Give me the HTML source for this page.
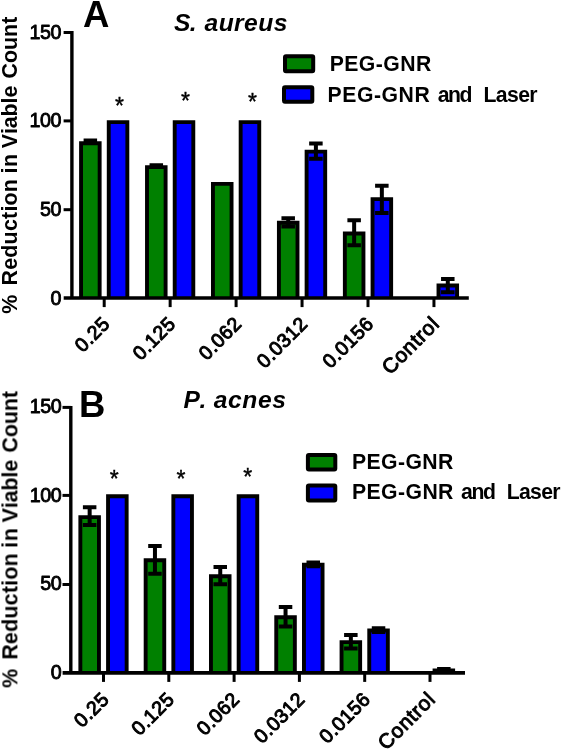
<!DOCTYPE html>
<html><head><meta charset="utf-8"><title>Reduction in Viable Count</title>
<style>
html,body{margin:0;padding:0;background:#fff;}
svg{display:block;}
#fig{filter:blur(0.45px);}
svg text{font-family:"Liberation Sans", sans-serif;fill:#000;}
svg text.tk{stroke:#000;stroke-width:0.85px;stroke-linejoin:round;letter-spacing:-0.5px;}
svg text.xk{stroke:#000;stroke-width:1px;stroke-linejoin:round;}
</style></head>
<body>
<svg width="566" height="750" viewBox="0 0 566 750">
<rect width="566" height="750" fill="#fff"/>
<g id="fig">
<g id="chartA">
<path d="M81.05 298.00V143.29H99.65V298.00" fill="#008000" stroke="#000" stroke-width="3.9"/>
<path d="M90.35 140.60V143.07M85.60 140.60H95.10M85.60 143.07H95.10" stroke="#000" stroke-width="4.0" fill="none" stroke-linecap="square" stroke-linejoin="round"/>
<path d="M108.75 298.00V122.10H127.35V298.00" fill="#0000ff" stroke="#000" stroke-width="3.9"/>
<path d="M147.00 298.00V167.13H165.60V298.00" fill="#008000" stroke="#000" stroke-width="3.9"/>
<path d="M156.30 165.14V166.91M151.55 165.14H161.05M151.55 166.91H161.05" stroke="#000" stroke-width="4.0" fill="none" stroke-linecap="square" stroke-linejoin="round"/>
<path d="M174.70 298.00V122.10H193.30V298.00" fill="#0000ff" stroke="#000" stroke-width="3.9"/>
<path d="M212.95 298.00V183.91H231.55V298.00" fill="#008000" stroke="#000" stroke-width="3.9"/>
<path d="M240.65 298.00V122.10H259.25V298.00" fill="#0000ff" stroke="#000" stroke-width="3.9"/>
<path d="M278.90 298.00V222.76H297.50V298.00" fill="#008000" stroke="#000" stroke-width="3.9"/>
<path d="M288.20 218.30V226.42M283.45 218.30H292.95M283.45 226.42H292.95" stroke="#000" stroke-width="4.0" fill="none" stroke-linecap="square" stroke-linejoin="round"/>
<path d="M306.60 298.00V151.59H325.20V298.00" fill="#0000ff" stroke="#000" stroke-width="3.9"/>
<path d="M315.90 143.60V158.79M311.15 143.60H320.65M311.15 158.79H320.65" stroke="#000" stroke-width="4.0" fill="none" stroke-linecap="square" stroke-linejoin="round"/>
<path d="M344.85 298.00V233.53H363.45V298.00" fill="#008000" stroke="#000" stroke-width="3.9"/>
<path d="M354.15 220.24V245.32M349.40 220.24H358.90M349.40 245.32H358.90" stroke="#000" stroke-width="4.0" fill="none" stroke-linecap="square" stroke-linejoin="round"/>
<path d="M372.55 298.00V199.10H391.15V298.00" fill="#0000ff" stroke="#000" stroke-width="3.9"/>
<path d="M381.85 185.63V213.00M377.10 185.63H386.60M377.10 213.00H386.60" stroke="#000" stroke-width="4.0" fill="none" stroke-linecap="square" stroke-linejoin="round"/>
<path d="M438.50 298.00V285.45H457.10V298.00" fill="#0000ff" stroke="#000" stroke-width="3.9"/>
<path d="M447.80 279.05V292.30M443.05 279.05H452.55M443.05 292.30H452.55" stroke="#000" stroke-width="4.0" fill="none" stroke-linecap="square" stroke-linejoin="round"/>
<path d="M71.90 31.00V298.00" stroke="#000" stroke-width="3.4" fill="none"/>
<path d="M63.70 298.00H468.80" stroke="#000" stroke-width="3.7" fill="none"/>
<path d="M63.60 209.70H71.90" stroke="#000" stroke-width="3" fill="none"/>
<path d="M63.60 120.90H71.90" stroke="#000" stroke-width="3" fill="none"/>
<path d="M63.60 32.50H71.90" stroke="#000" stroke-width="3" fill="none"/>
<text x="60.90" y="305.10" font-size="19.7" text-anchor="end" class="tk">0</text>
<text x="60.90" y="216.00" font-size="19.7" text-anchor="end" class="tk">50</text>
<text x="60.90" y="127.40" font-size="19.7" text-anchor="end" class="tk">100</text>
<text x="60.90" y="38.90" font-size="19.7" text-anchor="end" class="tk">150</text>
<path d="M104.20 298.00V307.10" stroke="#000" stroke-width="3" fill="none"/>
<text transform="translate(110.90 325.10) rotate(-45)" font-size="19.6" text-anchor="end" class="xk" style="letter-spacing:0.4px">0.25</text>
<path d="M170.15 298.00V307.10" stroke="#000" stroke-width="3" fill="none"/>
<text transform="translate(176.85 325.10) rotate(-45)" font-size="19.6" text-anchor="end" class="xk" style="letter-spacing:0.4px">0.125</text>
<path d="M236.10 298.00V307.10" stroke="#000" stroke-width="3" fill="none"/>
<text transform="translate(242.80 325.10) rotate(-45)" font-size="19.6" text-anchor="end" class="xk" style="letter-spacing:0.4px">0.062</text>
<path d="M302.05 298.00V307.10" stroke="#000" stroke-width="3" fill="none"/>
<text transform="translate(308.75 325.10) rotate(-45)" font-size="19.6" text-anchor="end" class="xk" style="letter-spacing:0.4px">0.0312</text>
<path d="M368.00 298.00V307.10" stroke="#000" stroke-width="3" fill="none"/>
<text transform="translate(374.70 325.10) rotate(-45)" font-size="19.6" text-anchor="end" class="xk" style="letter-spacing:0.4px">0.0156</text>
<path d="M433.95 298.00V307.10" stroke="#000" stroke-width="3" fill="none"/>
<text transform="translate(440.65 325.10) rotate(-45)" font-size="20.6" text-anchor="end" class="xk" style="letter-spacing:0.7px">Control</text>
<text x="119.50" y="113.50" font-size="23" text-anchor="middle" stroke="#000" stroke-width="0.4">*</text>
<text x="185.50" y="109.00" font-size="23" text-anchor="middle" stroke="#000" stroke-width="0.4">*</text>
<text x="252.40" y="109.50" font-size="23" text-anchor="middle" stroke="#000" stroke-width="0.4">*</text>
<text transform="translate(17.40 313.20) rotate(-90)" font-size="21.4" font-weight="bold" x="-0.53 19.98 27.67 43.35 55.48 68.79 82.09 94.22 101.58 107.75 121.06 133.98 139.61 146.26 158.58 164.95 179.13 184.99 196.80 209.78 215.63 228.23 234.72 250.16 263.22 276.28 289.33" y="0">% Reduction in Viable Count</text>
<text x="83" y="27" font-size="36.5" font-weight="bold">A</text>
<text x="174.10 189.87 196.23 204.58 218.68 234.12 244.12 258.21 273.66" y="30.9" font-size="24.6" font-weight="bold" font-style="italic">S. aureus</text>
<rect x="285" y="56.3" width="28.2" height="14.9" fill="#008000" stroke="#000" stroke-width="4" rx="1" stroke-linejoin="round"/>
<text x="329.68 344.26 358.83 375.76 383.25 400.18 415.92" y="71.2" font-size="21.2" font-weight="bold">PEG-GNR</text>
<rect x="284" y="87.2" width="28.3" height="14.5" fill="#0000ff" stroke="#000" stroke-width="4" rx="1" stroke-linejoin="round"/>
<text x="327.58 342.26 356.93 373.96 381.55 398.58 414.42 430.85 437.68 447.98 459.45 475.05 483.58 495.87 507.01 518.14 529.27" y="101.6" font-size="21.2" font-weight="bold">PEG-GNR and Laser</text>
</g>
<g id="chartB">
<path d="M80.35 672.80V517.10H98.95V672.80" fill="#008000" stroke="#000" stroke-width="3.9"/>
<path d="M89.65 507.28V525.06M84.90 507.28H94.40M84.90 525.06H94.40" stroke="#000" stroke-width="4.0" fill="none" stroke-linecap="square" stroke-linejoin="round"/>
<path d="M108.05 672.80V496.30H126.65V672.80" fill="#0000ff" stroke="#000" stroke-width="3.9"/>
<path d="M145.65 672.80V560.31H164.25V672.80" fill="#008000" stroke="#000" stroke-width="3.9"/>
<path d="M154.95 546.04V573.78M150.20 546.04H159.70M150.20 573.78H159.70" stroke="#000" stroke-width="4.0" fill="none" stroke-linecap="square" stroke-linejoin="round"/>
<path d="M173.35 672.80V496.30H191.95V672.80" fill="#0000ff" stroke="#000" stroke-width="3.9"/>
<path d="M210.95 672.80V576.31H229.55V672.80" fill="#008000" stroke="#000" stroke-width="3.9"/>
<path d="M220.25 567.02V584.27M215.50 567.02H225.00M215.50 584.27H225.00" stroke="#000" stroke-width="4.0" fill="none" stroke-linecap="square" stroke-linejoin="round"/>
<path d="M238.65 672.80V496.30H257.25V672.80" fill="#0000ff" stroke="#000" stroke-width="3.9"/>
<path d="M276.25 672.80V617.20H294.85V672.80" fill="#008000" stroke="#000" stroke-width="3.9"/>
<path d="M285.55 607.03V626.58M280.80 607.03H290.30M280.80 626.58H290.30" stroke="#000" stroke-width="4.0" fill="none" stroke-linecap="square" stroke-linejoin="round"/>
<path d="M303.95 672.80V564.75H322.55V672.80" fill="#0000ff" stroke="#000" stroke-width="3.9"/>
<path d="M313.25 562.58V566.13M308.50 562.58H318.00M308.50 566.13H318.00" stroke="#000" stroke-width="4.0" fill="none" stroke-linecap="square" stroke-linejoin="round"/>
<path d="M341.55 672.80V642.10H360.15V672.80" fill="#008000" stroke="#000" stroke-width="3.9"/>
<path d="M350.85 634.94V648.45M346.10 634.94H355.60M346.10 648.45H355.60" stroke="#000" stroke-width="4.0" fill="none" stroke-linecap="square" stroke-linejoin="round"/>
<path d="M369.25 672.80V630.54H387.85V672.80" fill="#0000ff" stroke="#000" stroke-width="3.9"/>
<path d="M378.55 628.36V631.92M373.80 628.36H383.30M373.80 631.92H383.30" stroke="#000" stroke-width="4.0" fill="none" stroke-linecap="square" stroke-linejoin="round"/>
<path d="M434.55 672.80V670.54H453.15V672.80" fill="#0000ff" stroke="#000" stroke-width="3.9"/>
<path d="M443.85 668.90V671.39M439.10 668.90H448.60M439.10 671.39H448.60" stroke="#000" stroke-width="4.0" fill="none" stroke-linecap="square" stroke-linejoin="round"/>
<path d="M70.80 405.90V672.80" stroke="#000" stroke-width="3.4" fill="none"/>
<path d="M62.60 672.80H465.00" stroke="#000" stroke-width="3.7" fill="none"/>
<path d="M62.50 584.50H70.80" stroke="#000" stroke-width="3" fill="none"/>
<path d="M62.50 495.40H70.80" stroke="#000" stroke-width="3" fill="none"/>
<path d="M62.50 407.40H70.80" stroke="#000" stroke-width="3" fill="none"/>
<text x="61.10" y="679.10" font-size="19.7" text-anchor="end" class="tk">0</text>
<text x="61.10" y="590.20" font-size="19.7" text-anchor="end" class="tk">50</text>
<text x="61.10" y="502.00" font-size="19.7" text-anchor="end" class="tk">100</text>
<text x="61.10" y="412.70" font-size="19.7" text-anchor="end" class="tk">150</text>
<path d="M103.50 672.80V681.90" stroke="#000" stroke-width="3" fill="none"/>
<text transform="translate(110.20 700.50) rotate(-45)" font-size="19.6" text-anchor="end" class="xk" style="letter-spacing:0.4px">0.25</text>
<path d="M168.80 672.80V681.90" stroke="#000" stroke-width="3" fill="none"/>
<text transform="translate(175.50 700.50) rotate(-45)" font-size="19.6" text-anchor="end" class="xk" style="letter-spacing:0.4px">0.125</text>
<path d="M234.10 672.80V681.90" stroke="#000" stroke-width="3" fill="none"/>
<text transform="translate(240.80 700.50) rotate(-45)" font-size="19.6" text-anchor="end" class="xk" style="letter-spacing:0.4px">0.062</text>
<path d="M299.40 672.80V681.90" stroke="#000" stroke-width="3" fill="none"/>
<text transform="translate(306.10 700.50) rotate(-45)" font-size="19.6" text-anchor="end" class="xk" style="letter-spacing:0.4px">0.0312</text>
<path d="M364.70 672.80V681.90" stroke="#000" stroke-width="3" fill="none"/>
<text transform="translate(371.40 700.50) rotate(-45)" font-size="19.6" text-anchor="end" class="xk" style="letter-spacing:0.4px">0.0156</text>
<path d="M430.00 672.80V681.90" stroke="#000" stroke-width="3" fill="none"/>
<text transform="translate(436.70 700.50) rotate(-45)" font-size="20.6" text-anchor="end" class="xk" style="letter-spacing:0.7px">Control</text>
<text x="114.20" y="487.00" font-size="23" text-anchor="middle" stroke="#000" stroke-width="0.4">*</text>
<text x="181.00" y="486.80" font-size="23" text-anchor="middle" stroke="#000" stroke-width="0.4">*</text>
<text x="247.80" y="485.00" font-size="23" text-anchor="middle" stroke="#000" stroke-width="0.4">*</text>
<text transform="translate(17.40 687.40) rotate(-90)" font-size="21.4" font-weight="bold" x="-0.53 19.98 27.67 43.35 55.48 68.79 82.09 94.22 101.58 107.75 121.06 133.98 139.61 146.26 158.58 164.95 179.13 184.99 196.80 209.78 215.63 228.23 234.72 250.16 263.22 276.28 289.33" y="0">% Reduction in Viable Count</text>
<text x="79" y="417" font-size="36.5" font-weight="bold">B</text>
<text x="183.57 199.57 205.63 213.68 227.99 242.30 257.95 272.26" y="408" font-size="24.6" font-weight="bold" font-style="italic">P. acnes</text>
<rect x="307.9" y="455" width="27.4" height="14.6" fill="#008000" stroke="#000" stroke-width="4" rx="1" stroke-linejoin="round"/>
<text x="351.88 366.44 381.00 397.91 405.39 422.30 438.02" y="468.8" font-size="21.2" font-weight="bold">PEG-GNR</text>
<rect x="307.9" y="485.6" width="27.4" height="14.9" fill="#0000ff" stroke="#000" stroke-width="4" rx="1" stroke-linejoin="round"/>
<text x="351.88 366.46 381.03 397.96 405.45 422.38 438.12 454.30 460.88 471.38 483.05 498.40 506.68 518.97 530.11 541.24 552.37" y="499.3" font-size="21.2" font-weight="bold">PEG-GNR and Laser</text>
</g>
</g>
</svg>
</body></html>
